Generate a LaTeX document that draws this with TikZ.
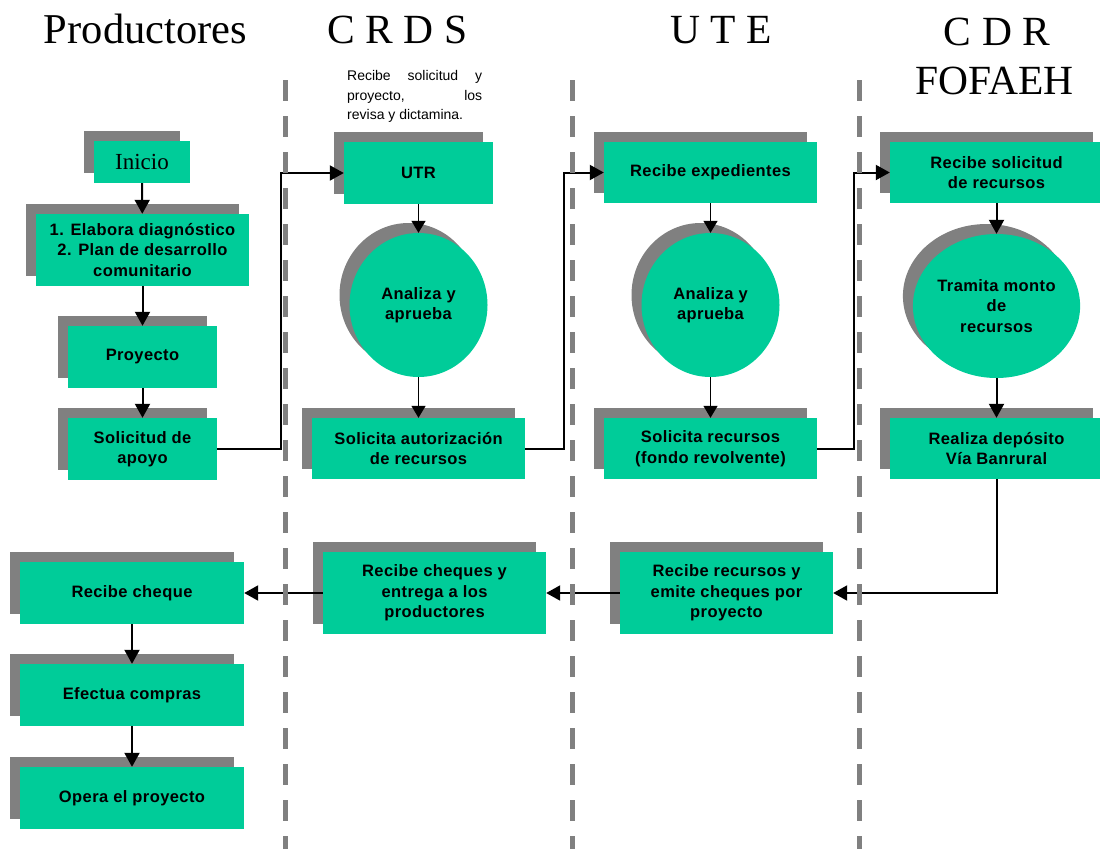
\documentclass[tikz,border=0pt]{standalone}
\usepackage{fontspec}
\setmainfont{Liberation Serif}
\newfontfamily\boxfont[LetterSpace=2.5]{Liberation Sans}
\newfontfamily\notefont{Liberation Sans}
\usetikzlibrary{arrows.meta,shapes.geometric,shadows}
\definecolor{boxgreen}{RGB}{0,204,153}
\definecolor{shgray}{RGB}{128,128,128}
\begin{document}
\begin{tikzpicture}[x=1pt,y=-1pt,
  boxshadow/.style={general shadow={shadow xshift=-10pt,shadow yshift=10pt,fill=shgray}},
  stepbox/.style={rectangle,fill=boxgreen,inner sep=0pt,align=center,
    font=\boxfont\bfseries\fontsize{16.5}{20.5}\selectfont,boxshadow},
  roundbox/.style={ellipse,fill=boxgreen,inner sep=0pt,align=center,
    minimum width=138pt,minimum height=144pt,
    font=\boxfont\bfseries\fontsize{16.5}{20.5}\selectfont,boxshadow},
  header/.style={anchor=base,inner sep=0pt,font=\fontsize{41.5}{48}\selectfont},
  conn/.style={draw=black,line width=2pt,-{Triangle[length=14pt,width=15pt]}},
  thinconn/.style={draw=black,line width=1.3pt,-{Triangle[length=12pt,width=14pt]}},
  lane/.style={draw=shgray,line width=5pt,dash pattern=on 21pt off 15pt}]
\useasboundingbox (0,0) rectangle (1100,849);

% headers
\node[header,font=\fontsize{42.5}{48}\selectfont] (hprod) at (145.5,43) {Productores};
\node[header] (hcrds) at (397.5,43) {C R D S};
\node[header] (hute) at (721,43) {U T E};
\node[header] (hcdr) at (997,45) {C D R};
\node[header] (hfof) at (994.5,94) {FOFAEH};

% note
\node[inner sep=0pt,align=left,anchor=north west,
  font=\notefont\fontsize{14}{19.5}\selectfont] (note) at (347,70.5)
  {\makebox[135pt][s]{Recibe solicitud y}\\
   \makebox[135pt][s]{proyecto, los}\\
   revisa y dictamina.};

% Productores column
\node[stepbox,minimum width=96pt,minimum height=42pt,
  font=\fontsize{23}{26}\selectfont] (ini) at (142,162) {Inicio};
\node[stepbox,minimum width=213pt,minimum height=72pt] (ela) at (142.5,250)
  {1. Elabora diagnóstico\\2. Plan de desarrollo\\comunitario};
\node[stepbox,minimum width=149pt,minimum height=62pt] (pro) at (142.5,357) {Proyecto};
\node[stepbox,minimum width=149pt,minimum height=62pt] (sol) at (142.5,449) {Solicitud de\\apoyo};

% CRDS column
\node[stepbox,minimum width=149pt,minimum height=62pt] (utr) at (418.5,173) {UTR};
\node[roundbox] (an1) at (418.5,305) {Analiza y\\aprueba};
\node[stepbox,minimum width=213pt,minimum height=61pt] (saut) at (418.5,448.5)
  {Solicita autorización\\de recursos};

% UTE column
\node[stepbox,minimum width=213pt,minimum height=61pt] (rexp) at (710.5,172.5) {Recibe expedientes};
\node[roundbox] (an2) at (710.5,305) {Analiza y\\aprueba};
\node[stepbox,minimum width=213pt,minimum height=61pt] (srec) at (710.5,448.5)
  {Solicita recursos\\(fondo revolvente)};

% CDR column
\node[stepbox,minimum width=213pt,minimum height=61pt] (rsol) at (996.5,172.5)
  {Recibe solicitud\\de recursos};
\node[roundbox] (tra) at (996.5,306) {Tramita monto\\de\\recursos};
\node[stepbox,minimum width=213pt,minimum height=61pt] (real) at (996.5,448.5)
  {Realiza depósito\\Vía Banrural};

% bottom row
\node[stepbox,minimum width=213pt,minimum height=82pt] (rrec) at (726.5,593)
  {Recibe recursos y\\emite cheques por\\proyecto};
\node[stepbox,minimum width=223pt,minimum height=82pt] (rche) at (434.5,593)
  {Recibe cheques y\\entrega a los\\productores};
\node[stepbox,minimum width=224pt,minimum height=62pt] (rcq) at (132,593) {Recibe cheque};
\node[stepbox,minimum width=224pt,minimum height=62pt] (efe) at (132,695) {Efectua compras};
\node[stepbox,minimum width=224pt,minimum height=62pt] (ope) at (132,798) {Opera el proyecto};

% connectors
\draw[conn] (ini) -- (ela);
\draw[conn] (ela) -- (pro);
\draw[conn] (pro) -- (sol);
\draw[conn] (sol.east) -- ++(64,0) |- (utr.west);
\draw[thinconn] (utr) -- (an1);
\draw[thinconn] (an1) -- (saut);
\draw[conn] (saut.east) -- ++(39,0) |- (rexp.west);
\draw[thinconn] (rexp) -- (an2);
\draw[thinconn] (an2) -- (srec);
\draw[conn] (srec.east) -- ++(37,0) |- (rsol.west);
\draw[conn] (rsol) -- (tra);
\draw[conn] (tra) -- (real);
\draw[conn] (real.south) |- (rrec.east);
\draw[conn] (rrec) -- (rche);
\draw[conn] (rche) -- (rcq);
\draw[conn] (rcq) -- (efe);
\draw[conn] (efe) -- (ope);

% swimlane separators
\draw[lane] (285,80) -- (285,849);
\draw[lane] (572,80) -- (572,849);
\draw[lane] (859,80) -- (859,849);
\end{tikzpicture}
\end{document}
